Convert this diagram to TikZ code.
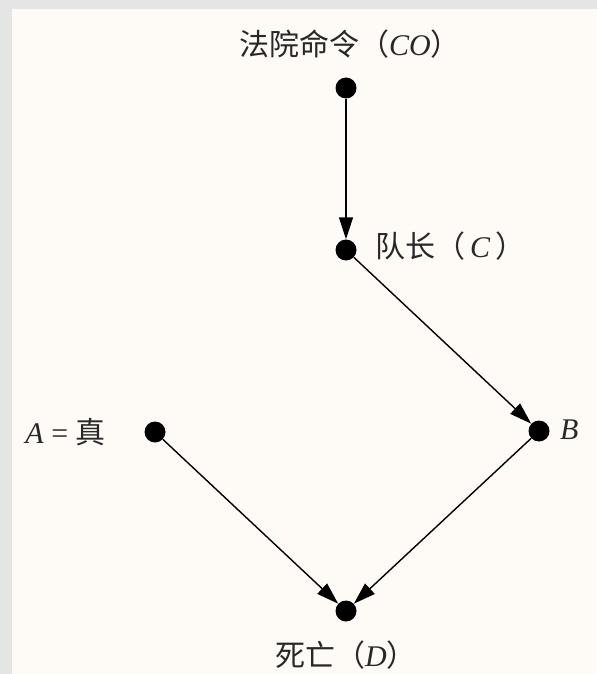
\documentclass[tikz,border=0pt]{standalone}
\usepackage{fontspec}
\setmainfont{Liberation Serif}
\newfontfamily\cjk{Noto Sans CJK SC}
\usepackage{tikz}
\usetikzlibrary{arrows.meta}
\definecolor{paperbg}{RGB}{254,251,247}
\definecolor{framebg}{RGB}{229,229,229}
\definecolor{inkgray}{RGB}{40,40,40}

\begin{document}
\begin{tikzpicture}[
        x=1pt, y=-1pt,
        dot/.style={circle, fill=black, inner sep=0pt, minimum size=21pt},
        lbl/.style={font=\fontsize{30}{34}\selectfont, text=inkgray, inner sep=0pt},
        arr/.style={-{Triangle[length=22pt, width=14pt]}, line width=1.4pt}
    ]
    \useasboundingbox (0,0) rectangle (597,674);
    \fill[framebg] (0,0) rectangle (597,674);
    \fill[paperbg] (12,9) rectangle (597,674);

    \node[dot] (co) at (346,88) {};
    \node[dot] (c) at (346,250) {};
    \node[dot] (a) at (155,432) {};
    \node[dot] (b) at (539,431) {};
    \node[dot] (d) at (346,611) {};

    \node[lbl] (colbl) at (350,44) {{\cjk 法院命令（}\textit{CO}{\cjk ）}};
    \node[lbl, anchor=west] (clbl) at (375,246) {{\cjk 队长（}\,\textit{C}\,{\cjk ）}};
    \node[lbl, anchor=east] (albl) at (106,432) {\textit{A} = {\cjk 真}};
    \node[lbl, anchor=west] (blbl) at (560,430) {\textit{B}};
    \node[lbl] (dlbl) at (346,655) {{\cjk 死亡（}\textit{D}{\cjk ）}};

    \draw[arr] (co) -- (c);
    \draw[arr] (c) -- (b);
    \draw[arr] (a) -- (d);
    \draw[arr] (b) -- (d);

\end{tikzpicture}
\end{document}
